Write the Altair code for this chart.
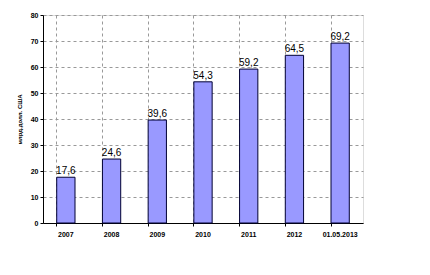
import altair as alt
import pandas as pd

categories = ["2007", "2008", "2009", "2010", "2011", "2012", "01.05.2013"]
values = [17.6, 24.6, 39.6, 54.3, 59.2, 64.5, 69.2]
labels = ["17,6", "24,6", "39,6", "54,3", "59,2", "64,5", "69,2"]
yticks = [0, 10, 20, 30, 40, 50, 60, 70, 80]

df = pd.DataFrame({"cat": categories, "val": values, "lab": labels})

x = alt.X("cat:N", sort=categories, title=None,
          scale=alt.Scale(paddingInner=0.6, paddingOuter=0.3),
          axis=alt.Axis(labelAngle=0, labelFont="Arial", labelFontSize=7, labelFontWeight="bold",
                        labelColor="black", domainColor="black", tickColor="black", tickSize=3,
                        bandPosition=0, grid=True, gridDash=[3, 3], gridColor="#999999",
                        labelPadding=4, labelOverlap=False))
y = alt.Y("val:Q", title="млрд.долл. США",
          scale=alt.Scale(domain=[0, 80], nice=False),
          axis=alt.Axis(values=yticks, labelOverlap=False, labelFont="Arial",
                        labelFontSize=7, labelFontWeight="bold", labelColor="black",
                        domainColor="black", tickColor="black", tickSize=3, gridDash=[3, 3],
                        gridColor="#999999", titleFont="Arial", titleFontSize=6,
                        titleFontWeight="bold", titleColor="black", titlePadding=8))

bars = alt.Chart(df).mark_bar(fill="#9999FF", stroke="#000033", strokeWidth=1).encode(x=x, y=y)
text = alt.Chart(df).mark_text(baseline="bottom", dy=-1, font="Arial", fontSize=10,
                               color="black").encode(x=x, y=y, text="lab:N")

chart = (bars + text).properties(
    width=320, height=208,
    autosize=alt.AutoSizeParams(type="none"),
    padding={"left": 43, "top": 15, "right": 67, "bottom": 52},
).configure_view(stroke="#888888", strokeWidth=1).configure(background="white")

chart.save("out.html", embed_options={"renderer": "svg", "actions": False})
